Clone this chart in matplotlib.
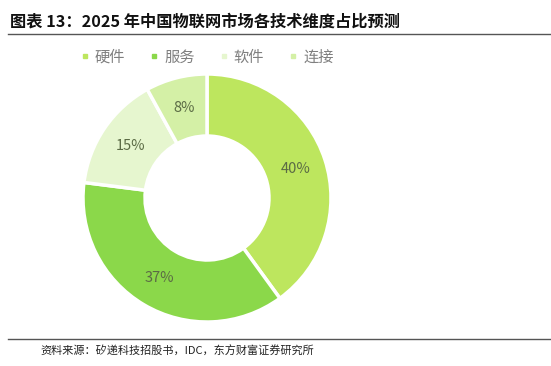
import matplotlib
matplotlib.use("Agg")
import matplotlib.pyplot as plt
from matplotlib.lines import Line2D
import numpy as np

plt.rcParams['font.family'] = ['Noto Sans CJK SC', 'DejaVu Sans']

labels = ["硬件", "服务", "软件", "连接"]
shares = [40, 37, 15, 8]
colors = ["#bde65e", "#8bd84a", "#e6f6cf", "#d4f0a6"]

W, H = 551, 366
fig = plt.figure(figsize=(W / 100, H / 100), dpi=100)

# title and rules
fig.text(10 / W, 1 - 22 / H, "图表 13：2025 年中国物联网市场各技术维度占比预测",
         fontsize=11.7, fontweight="bold", va="center", ha="left", color="#111111")
fig.add_artist(Line2D([8 / W, 1], [1 - 34 / H] * 2, color="#555555", lw=1.0))
fig.add_artist(Line2D([8 / W, 1], [1 - 339 / H] * 2, color="#555555", lw=1.0))
fig.text(40 / W, 1 - 351 / H, "资料来源：矽递科技招股书，IDC，东方财富证券研究所",
         fontsize=8, va="center", ha="left", color="#222222")

# donut
cx, cy, R = 207, 198, 124
ax = fig.add_axes([(cx - R) / W, 1 - (cy + R) / H, 2 * R / W, 2 * R / H])
wedges, _ = ax.pie(shares, colors=colors, startangle=90, counterclock=False,
                   radius=1.0, wedgeprops=dict(width=0.5, edgecolor="white", linewidth=2.5))
for w, s in zip(wedges, shares):
    ang = np.deg2rad((w.theta1 + w.theta2) / 2)
    ax.text(0.75 * np.cos(ang), 0.75 * np.sin(ang), "%d%%" % s,
            ha="center", va="center", fontsize=10.5, color="#5b6b45")
ax.set_xlim(-1, 1)
ax.set_ylim(-1, 1)
ax.set_aspect("equal")
ax.axis("off")

# legend
handles = [Line2D([], [], marker="s", ls="none", color=c, markersize=3.5) for c in colors]
fig.legend(handles, labels, loc="center", bbox_to_anchor=(207 / W, 1 - 57 / H),
           ncol=4, frameon=False, fontsize=11, labelcolor="#7f7f7f",
           handlelength=0.6, handletextpad=0.35, columnspacing=1.6)

fig.savefig("out.png", dpi=100)
